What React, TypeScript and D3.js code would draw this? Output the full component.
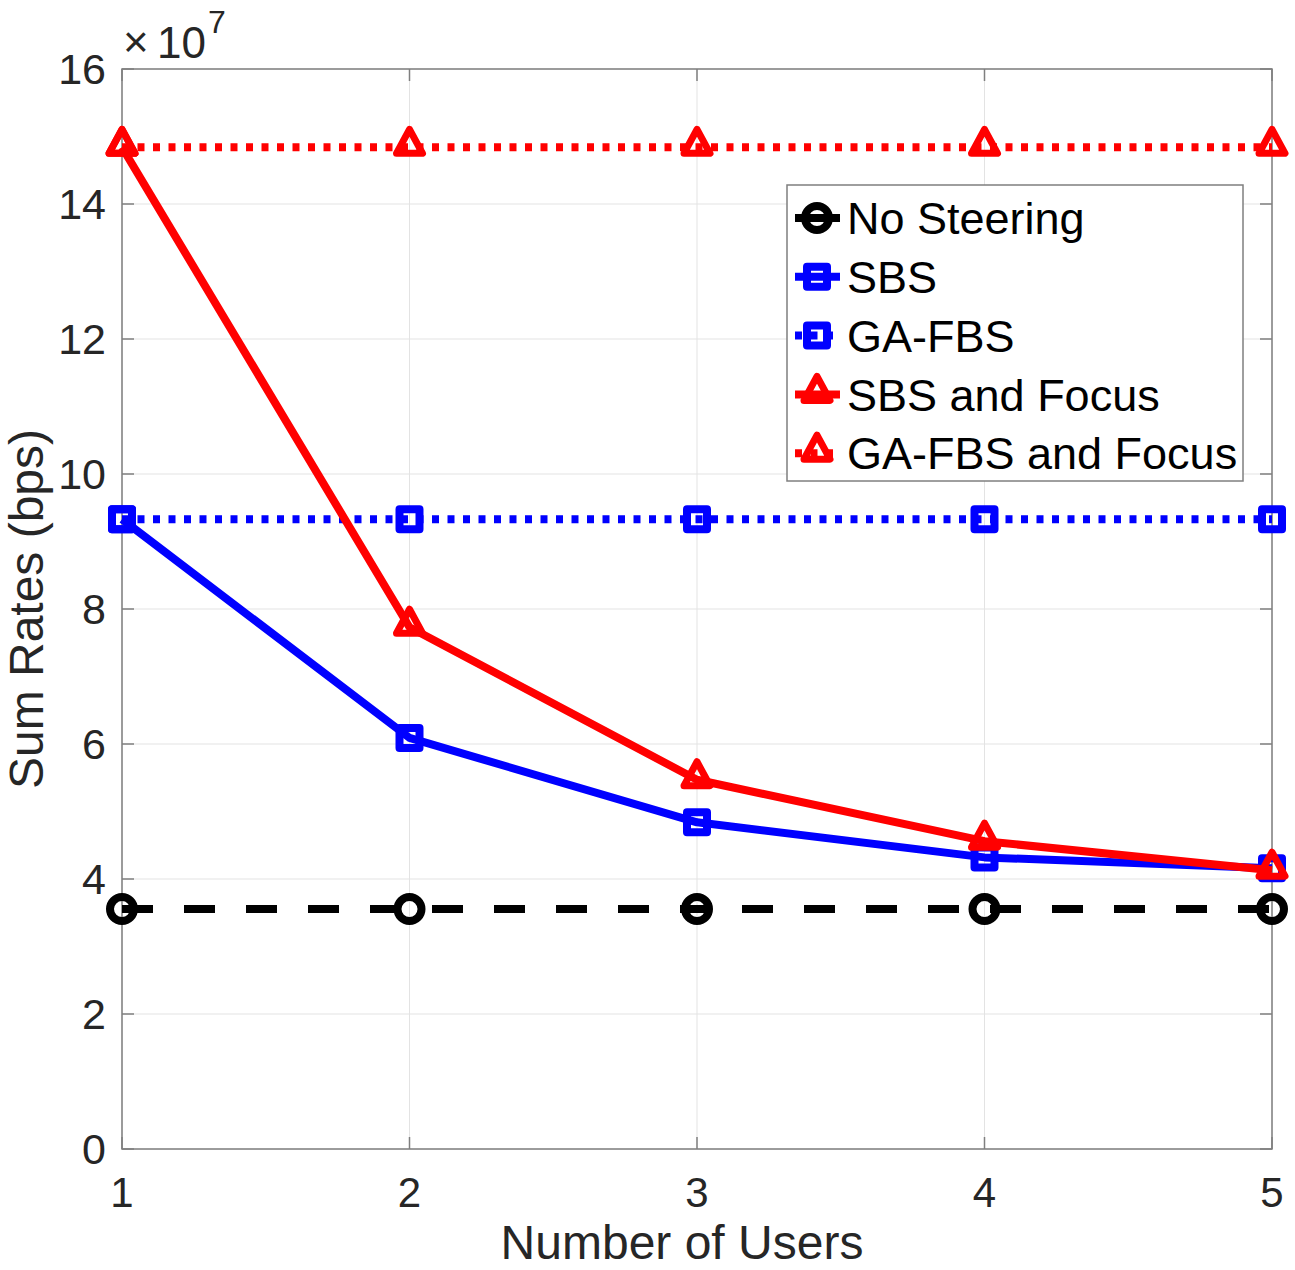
import * as d3 from "d3";

// number of users on the x axis
const users = [1, 2, 3, 4, 5];
// sum rates, in units of 1e7 bps
const noSteering = [3.555, 3.555, 3.555, 3.555, 3.555];
const sbs = [9.33, 6.09, 4.84, 4.32, 4.16];
const gaFbs = [9.33, 9.33, 9.33, 9.33, 9.33];
const sbsFocus = [14.84, 7.73, 5.47, 4.56, 4.13];
const gaFbsFocus = [14.84, 14.84, 14.84, 14.84, 14.84];

const yTicks = [0, 2, 4, 6, 8, 10, 12, 14, 16];
const xTicks = [1, 2, 3, 4, 5];

type Marker = "circle" | "square" | "triangle";

interface Series {
  name: string;
  values: number[];
  color: string;
  dash: string;
  marker: Marker;
}

const series: Series[] = [
  { name: "No Steering", values: noSteering, color: "#000000", dash: "31 31", marker: "circle" },
  { name: "SBS", values: sbs, color: "#0000ff", dash: "none", marker: "square" },
  { name: "GA-FBS", values: gaFbs, color: "#0000ff", dash: "7 8.5", marker: "square" },
  { name: "SBS and Focus", values: sbsFocus, color: "#ff0000", dash: "none", marker: "triangle" },
  { name: "GA-FBS and Focus", values: gaFbsFocus, color: "#ff0000", dash: "7 8.5", marker: "triangle" },
];

const W = 1295;
const H = 1270;
const left = 122;
const right = 1272;
const top = 69;
const bottom = 1149;
const font = "'Liberation Sans', Arial, Helvetica, sans-serif";
const axisColor = "#7f7f7f";
const textColor = "#262626";

function MarkerShape({ kind, x, y, color }: { kind: Marker; x: number; y: number; color: string }) {
  if (kind === "circle") {
    return <circle cx={x} cy={y} r={12} fill="none" stroke={color} strokeWidth={8} />;
  }
  if (kind === "square") {
    return <rect x={x - 10} y={y - 10} width={20} height={20} fill="none" stroke={color} strokeWidth={8} strokeLinejoin="round" />;
  }
  const pts = [
    [x, y - 18],
    [x + 13, y + 6],
    [x - 13, y + 6],
  ];
  return <polygon points={pts.map((p) => p.join(",")).join(" ")} fill="none" stroke={color} strokeWidth={7} strokeLinejoin="round" />;
}

export default function App() {
  const x = d3.scaleLinear().domain([1, 5]).range([left, right]);
  const y = d3.scaleLinear().domain([0, 16]).range([bottom, top]);

  const line = d3
    .line<number>()
    .x((_, i) => x(users[i]))
    .y((d) => y(d));

  const legX = 787;
  const legY = 185;
  const legW = 456;
  const legH = 296;
  const rowH = 58.8;

  return (
    <div style={{ position: "absolute", left: 0, top: 0 }}>
      <svg width={W} height={H} style={{ display: "block", fontFamily: font }}>
        <rect width={W} height={H} fill="#ffffff" />

        {/* grid */}
        {yTicks.map((t) => (
          <line key={"gy" + t} x1={left} x2={right} y1={y(t)} y2={y(t)} stroke="#e3e3e3" strokeWidth={1} />
        ))}
        {xTicks.map((t) => (
          <line key={"gx" + t} x1={x(t)} x2={x(t)} y1={top} y2={bottom} stroke="#e3e3e3" strokeWidth={1} />
        ))}

        {/* axes box and ticks */}
        <rect x={left} y={top} width={right - left} height={bottom - top} fill="none" stroke={axisColor} strokeWidth={1.5} />
        {yTicks.map((t) => (
          <g key={"ty" + t}>
            <line x1={left} x2={left + 12} y1={y(t)} y2={y(t)} stroke={axisColor} strokeWidth={1.5} />
            <line x1={right} x2={right - 12} y1={y(t)} y2={y(t)} stroke={axisColor} strokeWidth={1.5} />
            <text x={106} y={y(t)} dy="0.36em" textAnchor="end" fontSize={43} fill={textColor}>
              {t}
            </text>
          </g>
        ))}
        {xTicks.map((t) => (
          <g key={"tx" + t}>
            <line x1={x(t)} x2={x(t)} y1={bottom} y2={bottom - 12} stroke={axisColor} strokeWidth={1.5} />
            <line x1={x(t)} x2={x(t)} y1={top} y2={top + 12} stroke={axisColor} strokeWidth={1.5} />
            <text x={x(t)} y={1207} textAnchor="middle" fontSize={42} fill={textColor}>
              {t}
            </text>
          </g>
        ))}

        {/* exponent */}
        <text x={123} y={57} fontSize={44} fill={textColor}>
          ×
        </text>
        <text x={157} y={58} fontSize={44} fill={textColor}>
          10
        </text>
        <text x={208} y={33} fontSize={32} fill={textColor}>
          7
        </text>

        {/* axis labels */}
        <text x={682} y={1259} textAnchor="middle" fontSize={48} fill={textColor}>
          Number of Users
        </text>
        <text transform={`translate(43, ${(top + bottom) / 2}) rotate(-90)`} textAnchor="middle" fontSize={48} fill={textColor}>
          Sum Rates (bps)
        </text>

        {/* series */}
        {series.map((s) => (
          <g key={s.name}>
            <path d={line(s.values) ?? ""} fill="none" stroke={s.color} strokeWidth={8} strokeDasharray={s.dash} strokeLinejoin="round" />
            {s.values.map((v, i) => (
              <MarkerShape key={i} kind={s.marker} x={x(users[i])} y={y(v)} color={s.color} />
            ))}
          </g>
        ))}

        {/* legend */}
        <rect x={legX} y={legY} width={legW} height={legH} fill="#ffffff" stroke={axisColor} strokeWidth={1.5} />
        {series.map((s, i) => {
          const cy = legY + 33 + i * rowH;
          const dash = s.dash === "7 8.5" ? "7 8.5" : "none";
          return (
            <g key={"leg" + s.name}>
              <line x1={795} x2={840} y1={cy} y2={cy} stroke={s.color} strokeWidth={8} strokeDasharray={dash} />
              <MarkerShape kind={s.marker} x={817} y={cy} color={s.color} />
              <text x={847} y={cy} dy="0.36em" fontSize={45} fill="#000000">
                {s.name}
              </text>
            </g>
          );
        })}
      </svg>
    </div>
  );
}
